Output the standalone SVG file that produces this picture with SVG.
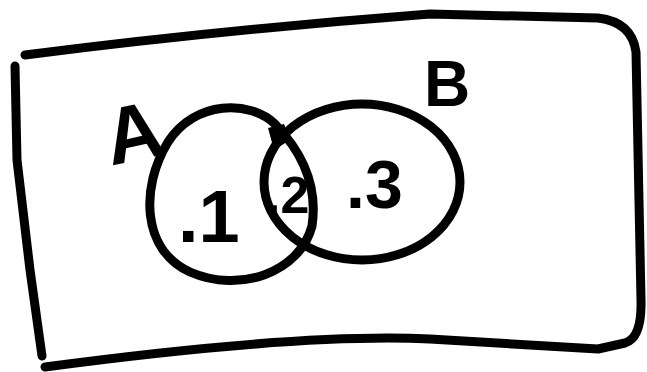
<svg xmlns="http://www.w3.org/2000/svg" width="647" height="372" viewBox="0 0 647 372">
<style>
.ln{fill:none;stroke:#000;stroke-width:9;stroke-linecap:round;stroke-linejoin:round}
.t{font-family:"Liberation Sans",Arial,sans-serif;font-weight:bold;fill:#000}
</style>
<rect width="647" height="372" fill="#fff"/>
<g id="frame">
<path class="ln" d="M25,55 Q220,30 430,14 L598,18 Q632,22 636,52 L641,300 Q642,338 625,343 L598,349 L430,339 Q300,333 45,367"/>
<path class="ln" d="M15,66 L17,160 L30,270 L42,356"/>
</g>
<g id="setA">
<path class="ln" d="M275,124 C250,100 195,100 168,142 C140,188 142,250 190,272 C240,294 300,272 312,226 C318,186 302,152 275,124 Z"/>
<text class="t" x="104" y="160" font-size="80" transform="rotate(-12 135 130)">A</text>
</g>
<g id="setB">
<ellipse class="ln" cx="362" cy="182" rx="98" ry="78"/>
<path d="M268,128 L284,124 L290,140 L274,150 Z" fill="#000"/>
<text class="t" x="424" y="106" font-size="64">B</text>
</g>
<g id="labels">
<text class="t" x="178" y="242" font-size="74">.1</text>
<text class="t" x="346" y="208" font-size="68">.3</text>
<text class="t" x="266" y="213" font-size="52">.2</text>
</g>
</svg>
